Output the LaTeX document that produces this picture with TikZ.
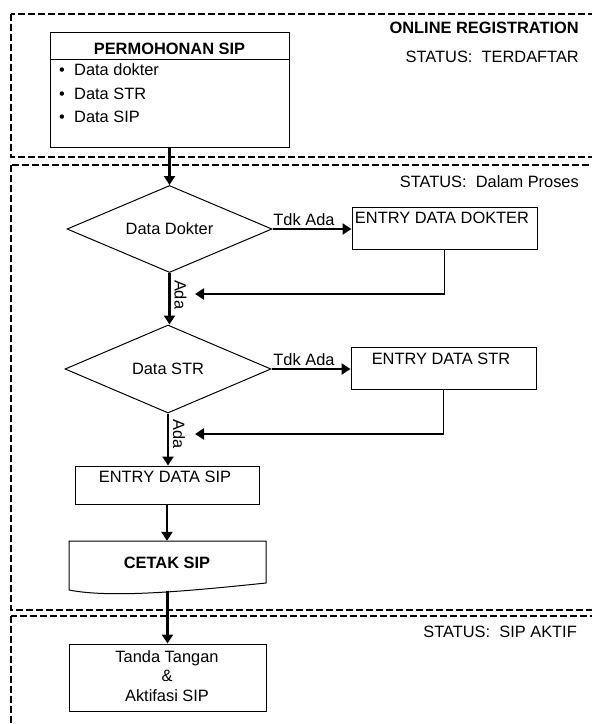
\documentclass[tikz,border=0pt]{standalone}
\usepackage{fontspec}
\setmainfont{Liberation Sans}
\usetikzlibrary{arrows.meta,shapes.geometric}
\begin{document}
\begin{tikzpicture}[x=1pt,y=-1pt,
  every node/.style={font=\fontsize{16.4}{19.5}\selectfont, inner sep=0pt},
  bfont/.style={font=\fontsize{16.4}{19.5}\selectfont\bfseries},
  box/.style={draw, line width=1pt, rectangle},
  dec/.style={draw, line width=1pt, diamond, aspect=2.36},
  flow/.style={line width=2.4pt, -{Triangle[length=9pt,width=11pt]}},
  thinline/.style={line width=1.2pt},
  lane/.style={line width=2pt, dash pattern=on 7pt off 3pt},
  status/.style={anchor=east}
]
\useasboundingbox (0,0) rectangle (592,724);
\begin{scope}
  \clip (0,0) rectangle (592,724);
  \draw[lane] (11,14) rectangle (610,157);
  \draw[lane] (11,165) rectangle (610,610);
  \draw[lane] (11,616) rectangle (610,740);
\end{scope}

% status labels
\node[status, bfont] (title) at (579,28) {ONLINE REGISTRATION};
\node[status] (st1) at (579,57) {STATUS:\ \ TERDAFTAR};
\node[status] (st2) at (579,182) {STATUS:\ \ Dalam Proses};
\node[status] (st3) at (577,632) {STATUS:\ \ SIP AKTIF};

% permohonan
\node[box, minimum width=239pt, minimum height=115pt] (perm) at (169.5,89.5) {};
\draw[line width=1pt] ([yshift=-28pt]perm.north west) -- ([yshift=-28pt]perm.north east);
\node[bfont] (permt) at (169.5,49) {PERMOHONAN SIP};
\node[anchor=west] (i1) at (59,70) {\makebox[15pt][l]{•}Data dokter};
\node[anchor=west] (i2) at (59,94) {\makebox[15pt][l]{•}Data STR};
\node[anchor=west] (i3) at (59,117) {\makebox[15pt][l]{•}Data SIP};

% decisions and boxes
\node[dec, minimum width=205pt, minimum height=87pt] (d1) at (169.5,229) {Data Dokter};
\node[box, minimum width=185pt, minimum height=42pt] (e1) at (444.5,228) {};
\node (e1t) at (442,218) {ENTRY DATA DOKTER};

\node[dec, minimum width=206pt, minimum height=88pt] (d2) at (168,369) {Data STR};
\node[box, minimum width=185pt, minimum height=42pt] (e2) at (443.5,368) {};
\node (e2t) at (441,359) {ENTRY DATA STR};

\node[box, minimum width=184pt, minimum height=38pt] (sip) at (167,485) {};
\node (sipt) at (165,477) {ENTRY DATA SIP};

\node[minimum width=197pt, minimum height=50pt] (cetak) at (167.5,566) {};
\draw[line width=1pt] (69,590) -- (69,541) -- (266,541) -- (266,583)
  .. controls (180,592) and (110,598) .. (69,590);
\node[bfont] (cetakt) at (167,563) {CETAK SIP};

\node[box, minimum width=197pt, minimum height=67pt] (tanda) at (167.5,677.5) {};
\node[align=center] (tandat) at (167,676) {Tanda Tangan\\\&\\Aktifasi SIP};

% connectors
\draw[flow] (perm.south) -- (d1.north);
\draw[flow] (d1.east) -- (d1.east -| e1.west);
\node[anchor=south] (tdk1) at (304,226) {Tdk Ada};
\draw[flow] (d1.south) -- coordinate[pos=0.42] (a1) (d1.south |- d2.north);
\node[rotate=-90] (ada1) at ([xshift=11pt]a1) {Ada};
\coordinate (r1) at (444.5,294);
\coordinate (r1e) at (195,294);
\draw[thinline] (e1.south) -- (r1);
\draw[flow] (r1) -- (r1e);

\draw[flow] (d2.east) -- (d2.east -| e2.west);
\node[anchor=south] (tdk2) at (304,366) {Tdk Ada};
\draw[flow] (d2.south) -- coordinate[pos=0.4] (a2) (d2.south |- sip.north);
\node[rotate=-90] (ada2) at ([xshift=11pt]a2) {Ada};
\coordinate (r2) at (443.5,434);
\coordinate (r2e) at (195,434);
\draw[thinline] (e2.south) -- (r2);
\draw[flow] (r2) -- (r2e);

\draw[flow] (sip.south) -- (sip.south |- cetak.north);
\draw[flow] (cetak.south) -- (cetak.south |- tanda.north);
\end{tikzpicture}
\end{document}
